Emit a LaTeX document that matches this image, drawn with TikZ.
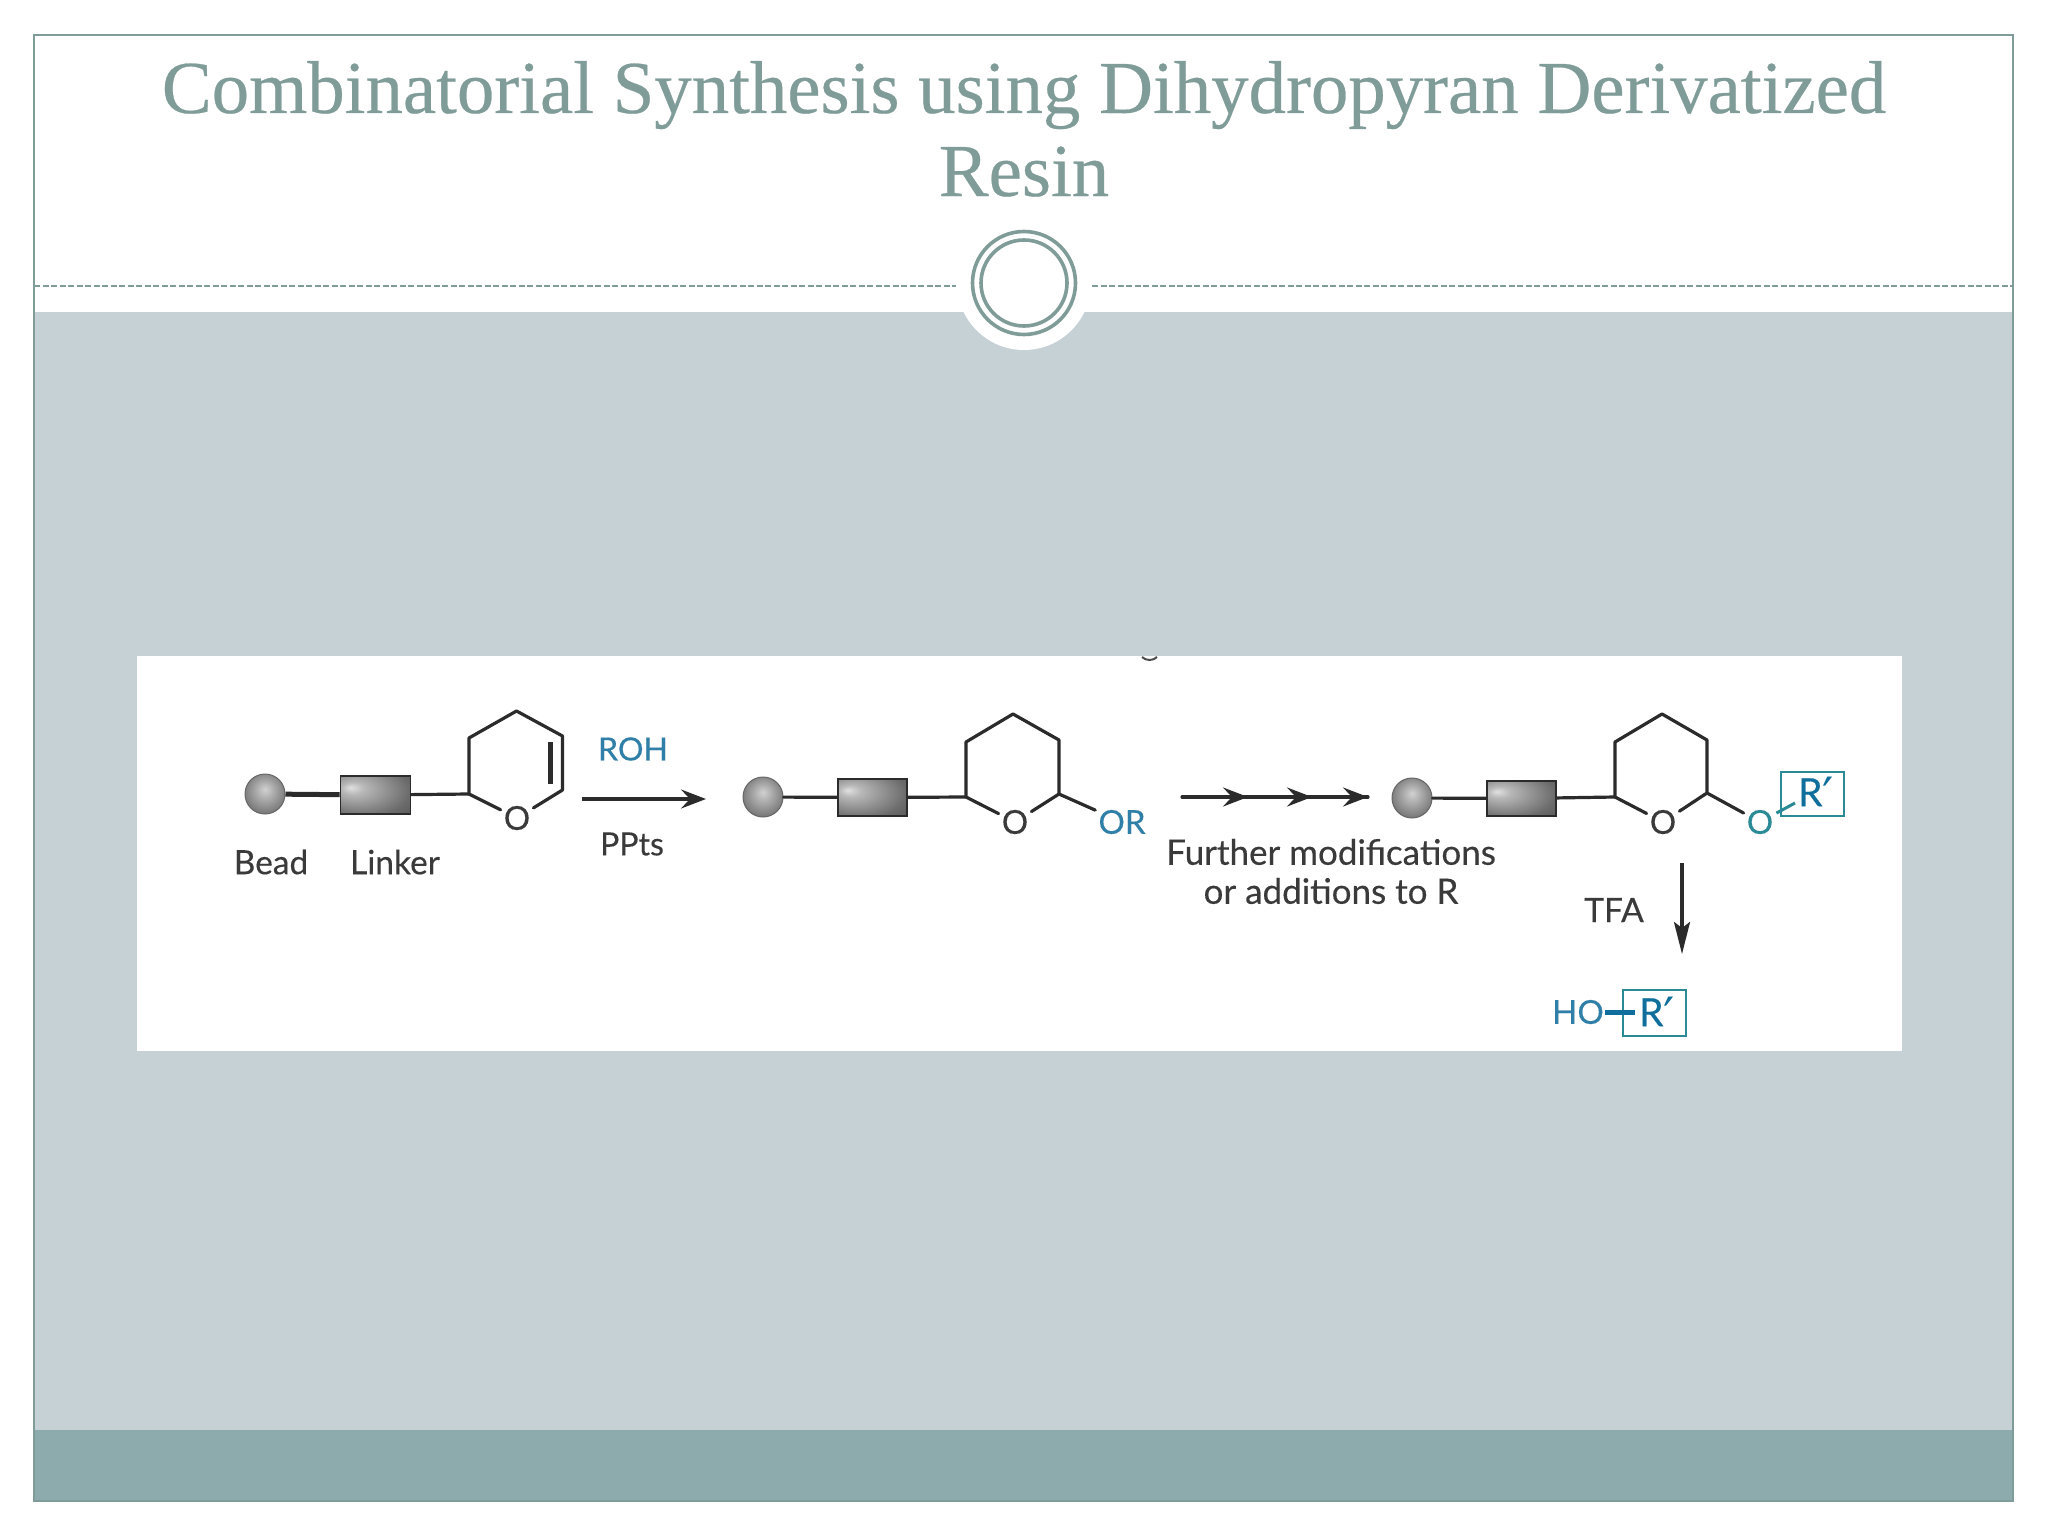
\documentclass[tikz,border=0pt]{standalone}
\usepackage{fontspec}
\setmainfont{Liberation Serif}
\newfontfamily\titlefont[FakeBold=0.35]{Liberation Serif}
\newfontfamily\labelfont[FakeBold=0.3]{Lato}
\newfontfamily\primefont{DejaVu Sans}
\newcommand{\rprime}{R{\primefont\fontsize{50}{50}\selectfont\raisebox{-7pt}{′}}}
\usetikzlibrary{arrows.meta}
\definecolor{framec}{HTML}{7F9C98}
\definecolor{panelc}{HTML}{C5D1D5}
\definecolor{bandc}{HTML}{8DABAD}
\definecolor{inkc}{HTML}{2B2B2B}
\definecolor{labelc}{HTML}{3A3A3A}
\definecolor{bluec}{HTML}{2F7FA8}
\definecolor{tealc}{HTML}{2A8A96}
\definecolor{deepc}{HTML}{0F6E9C}
\pgfdeclareradialshading{linkshade}{\pgfpoint{-18bp}{10bp}}{
  color(0bp)=(white!88!black);
  color(8bp)=(white!72!black);
  color(34bp)=(white!42!black);
  color(75bp)=(white!15!black)}
\pgfdeclareradialshading{beadshade}{\pgfpoint{0bp}{6bp}}{
  color(0bp)=(white!82!black);
  color(12bp)=(white!66!black);
  color(34bp)=(white!38!black);
  color(50bp)=(white!22!black)}
\tikzset{
  txt/.style={font=\labelfont\fontsize{33.5}{38}\selectfont, text=labelc, inner sep=0pt, anchor=center},
  longtxt/.style={txt, font=\labelfont\fontsize{35}{38}\selectfont},
  shorttxt/.style={txt, font=\labelfont\fontsize{32}{38}\selectfont},
  bluetxt/.style={shorttxt, text=bluec},
  atom/.style={font=\labelfont\fontsize{33}{38}\selectfont, text=labelc, inner sep=3pt, anchor=center},
  blueatom/.style={atom, text=bluec},
  ratom/.style={atom, text=deepc, inner sep=0pt, font=\labelfont\fontsize{39}{40}\selectfont},
  beadn/.style={circle, minimum size=40pt, inner sep=0pt, draw=black!60, line width=1pt, shading=beadshade},
  linkern/.style={rectangle, inner sep=0pt, draw=inkc, line width=1.6pt, shading=linkshade},
  bond/.style={draw=inkc, line width=3.2pt, line join=round, line cap=round},
  rarrow/.style={draw=inkc, line width=3.2pt, -{Stealth[length=25pt,width=19pt,inset=9pt]}},
  rbox/.style={rectangle, draw=tealc, line width=1.8pt, inner sep=0pt},
  titletxt/.style={font=\titlefont\fontsize{74.8}{83}\selectfont, text=framec, inner sep=0pt, anchor=base},
  frameline/.style={draw=framec, line width=2pt},
  dashline/.style={draw=framec, line width=1.3pt, dash pattern=on 6pt off 2.5pt},
}
\begin{document}
\begin{tikzpicture}[x=1pt,y=-1pt]
\useasboundingbox (0,0) rectangle (2048,1536);
\fill[white] (0,0) rectangle (2048,1536);
% slide
\fill[panelc] (34,312) rectangle (2013,1430);
\fill[bandc] (34,1430) rectangle (2013,1501);
\fill[white] (1024,283) circle[radius=67pt];
\draw[frameline] (34,35) rectangle (2013,1501);
\draw[dashline] (34,286) -- (956,286);
\draw[dashline] (1092,286) -- (2013,286);
\draw[draw=framec, line width=3.6pt] (1024,283) circle[radius=51.5pt];
\draw[draw=framec, line width=3.6pt] (1024,283) circle[radius=43pt];
% title
\node[titletxt] (title1) at (1024,113) {Combinatorial Synthesis using Dihydropyran Derivatized};
\node[titletxt] (title2) at (1024,196) {Resin};
% white panel
\fill[white] (137,656) rectangle (1902,1051);
\draw[black!70, line width=2pt] (1142,657) .. controls (1146,661) and (1153,661) .. (1157,657);

% structure 1
\node[beadn] (b1) at (265,794) {};
\node[linkern, minimum width=70pt, minimum height=38pt] (l1) at (375.5,795) {};
\coordinate (a1) at (469,794);
\coordinate (a2) at (469,738);
\coordinate (a3) at (516.5,711);
\coordinate (a4) at (562.5,736);
\coordinate (a5) at (562.5,790);
\node[atom] (ao) at (517,818) {O};
\draw[draw=inkc, line width=5pt] (b1) -- (l1);
\draw[bond] (l1) -- (a1);
\draw[bond] (ao) -- (a1) -- (a2) -- (a3) -- (a4) -- (a5) -- (ao);
\coordinate (ad1) at (550,742);
\coordinate (ad2) at (550,784);
\draw[draw=inkc, line width=5pt] (ad1) -- (ad2);
\node[bluetxt] (roh) at (633,749) {ROH};
\node[shorttxt] (ppts) at (632,844) {PPts};
\node[txt] (bead) at (271,862) {Bead};
\node[txt] (linker) at (395,862) {Linker};
\coordinate (r1s) at (582,799);
\coordinate (r1e) at (706,799);
\draw[rarrow] (r1s) -- (r1e);

% structure 2
\node[beadn] (b2) at (763,797) {};
\node[linkern, minimum width=69pt, minimum height=37pt] (l2) at (872.5,797.5) {};
\coordinate (c1) at (966,797);
\coordinate (c2) at (966,742);
\coordinate (c3) at (1013,714);
\coordinate (c4) at (1059,740);
\coordinate (c5) at (1059,794);
\node[atom] (co) at (1015,822) {O};
\node[blueatom] (cr) at (1122,822) {OR};
\draw[bond] (b2) -- (l2);
\draw[bond] (l2) -- (c1);
\draw[bond] (co) -- (c1) -- (c2) -- (c3) -- (c4) -- (c5) -- (co);
\draw[bond] (c5) -- (cr);

% multi-step arrow
\coordinate (m0) at (1182,797);
\coordinate (m1) at (1248,797);
\coordinate (m2) at (1312,797);
\coordinate (m3) at (1368,797);
\draw[bond] (m0) -- (m3);
\draw[rarrow] (m0) -- (m1);
\draw[rarrow] (m1) -- (m2);
\draw[rarrow] (m2) -- (m3);
\node[longtxt] (fm1) at (1331,852) {Further modifications};
\node[longtxt] (fm2) at (1331,891) {or additions to R};

% structure 3
\node[beadn] (b3) at (1412,798) {};
\node[linkern, minimum width=69pt, minimum height=35pt] (l3) at (1521.5,798.5) {};
\coordinate (d1) at (1615,797);
\coordinate (d2) at (1615,742);
\coordinate (d3) at (1662,714);
\coordinate (d4) at (1707,740);
\coordinate (d5) at (1707,793);
\node[atom] (dO) at (1663,822) {O};
\node[atom, text=tealc] (dt) at (1760,822) {O};
\draw[bond] (b3) -- (l3);
\draw[bond] (l3) -- (d1);
\draw[bond] (dO) -- (d1) -- (d2) -- (d3) -- (d4) -- (d5) -- (dO);
\draw[bond] (d5) -- (dt);
\node[rbox, minimum width=63pt, minimum height=44pt] (rb1) at (1812.5,794) {};
\node[ratom] (r1) at (1816,795) {\rprime};
\coordinate (dtb) at (1795,803);
\draw[draw=tealc, line width=3pt] (dt) -- (dtb);

% cleavage
\node[txt] (tfa) at (1614,910) {TFA};
\coordinate (t1) at (1682,863);
\coordinate (t2) at (1682,954);
\draw[draw=inkc, line width=3.2pt, -{Stealth[length=32pt,width=16pt,inset=6pt]}] (t1) -- (t2);
\node[rbox, minimum width=63pt, minimum height=46pt] (rb2) at (1654.5,1013) {};
\node[blueatom, inner sep=1pt] (ho) at (1578,1012) {HO};
\node[ratom] (r2) at (1657,1015) {\rprime};
\coordinate (hb) at (1635,1012);
\draw[draw=deepc, line width=5pt] (ho) -- (hb);
\end{tikzpicture}
\end{document}
